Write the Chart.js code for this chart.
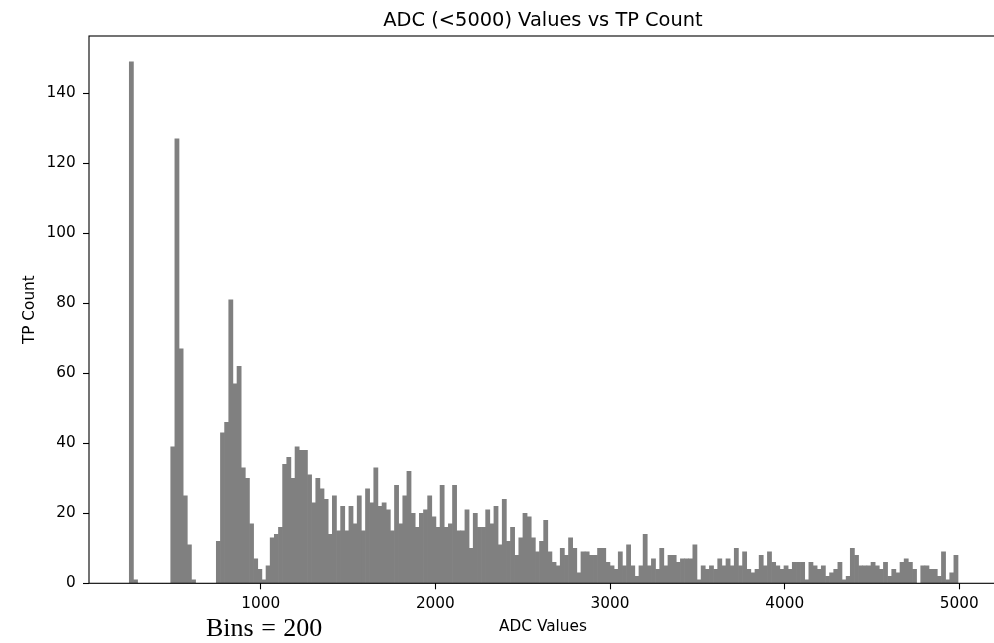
<!DOCTYPE html>
<html>
<head>
<meta charset="utf-8">
<script src="https://cdn.jsdelivr.net/npm/chart.js@4/dist/chart.umd.min.js"></script>
<style>
  html, body { margin: 0; padding: 0; background: #fff; overflow: hidden; width: 994px; height: 643px; }
  #wrap { position: relative; width: 997px; height: 643px; }
  #c { position: absolute; left: 0; top: 0; }
  #bins { position: absolute; left: 206px; top: 614.9px; font-family: 'Liberation Serif', 'Times New Roman', serif;
          font-size: 26px; line-height: 26px; color: #000; white-space: pre; word-spacing: 1px; }
</style>
</head>
<body>
<div id="wrap">
  <canvas id="c" width="997" height="643"></canvas>
  <div id="bins">Bins = 200</div>
</div>
<script>
// ---- text ----
const TITLE = 'ADC (<5000) Values vs TP Count';
const X_LABEL = 'ADC Values';
const Y_LABEL = 'TP Count';

// ---- histogram bins (200 bins) ----
const BIN_START = 247.6;   // left edge of first bin (ADC)
const BIN_WIDTH = 23.725;  // bin width (ADC)

// ---- counts per bin ----
const counts = [
  149, 1, 0, 0, 0, 0, 0, 0, 0, 0,
  39, 127, 67, 25, 11, 1, 0, 0, 0, 0,
  0, 12, 43, 46, 81, 57, 62, 33, 30, 17,
  7, 4, 1, 5, 13, 14, 16, 34, 36, 30,
  39, 38, 38, 31, 23, 30, 27, 24, 14, 25,
  15, 22, 15, 22, 17, 25, 15, 27, 23, 33,
  22, 23, 21, 15, 28, 17, 25, 32, 20, 16,
  20, 21, 25, 19, 16, 28, 16, 17, 28, 15,
  15, 21, 10, 20, 16, 16, 21, 17, 22, 11,
  24, 12, 16, 8, 13, 20, 19, 13, 9, 12,
  18, 9, 6, 5, 10, 8, 13, 10, 3, 9,
  9, 8, 8, 10, 10, 6, 5, 4, 9, 5,
  11, 5, 2, 5, 14, 5, 7, 4, 10, 5,
  8, 8, 6, 7, 7, 7, 11, 1, 5, 4,
  5, 4, 7, 5, 7, 5, 10, 5, 9, 4,
  3, 4, 8, 5, 9, 6, 5, 4, 5, 4,
  6, 6, 6, 1, 6, 5, 4, 5, 2, 3,
  4, 6, 1, 2, 10, 8, 5, 5, 5, 6,
  5, 4, 6, 2, 4, 3, 6, 7, 6, 4,
  0, 5, 5, 4, 4, 2, 9, 1, 3, 8
];

// ---- axes ----
const xTicks = [1000, 2000, 3000, 4000, 5000];
const yTicks = [0, 20, 40, 60, 80, 100, 120, 140];
const X_MIN = 16.9, X_MAX = 5215.8;
const Y_MIN = 0, Y_MAX = 156.4;

const FONT = "'DejaVu Sans', sans-serif";

const points = counts.map((c, i) => ({ x: BIN_START + (i + 0.5) * BIN_WIDTH, y: c }));

const titleCenter = {
  id: 'titleCenter',
  afterLayout(chart) {
    const t = chart.titleBlock;
    if (t) { t.left = chart.chartArea.left; t.right = chart.chartArea.right; }
  }
};

const frame = {
  id: 'frame',
  afterDraw(chart) {
    const { ctx, chartArea: a } = chart;
    ctx.save();
    ctx.strokeStyle = '#000';
    ctx.lineWidth = 1.1;
    ctx.strokeRect(a.left, a.top, a.right - a.left, a.bottom - a.top);
    ctx.restore();
  }
};

new Chart(document.getElementById('c'), {
  type: 'bar',
  data: {
    datasets: [{
      data: points,
      backgroundColor: '#808080',
      borderWidth: 0,
      barPercentage: 1,
      categoryPercentage: 1
    }]
  },
  options: {
    responsive: false,
    animation: false,
    devicePixelRatio: 1,
    layout: { padding: 0 },
    plugins: {
      legend: { display: false },
      tooltip: { enabled: false },
      title: {
        display: true, text: TITLE, color: '#000',
        font: { family: FONT, size: 19.4, weight: 'normal', lineHeight: 1.2 },
        padding: { top: 9.3, bottom: 3.42 }
      }
    },
    scales: {
      x: {
        type: 'linear', position: 'bottom', min: X_MIN, max: X_MAX, offset: false,
        afterBuildTicks: s => { s.ticks = xTicks.map(v => ({ value: v })); },
        afterFit: s => { s.height = 59.7; },
        grid: { display: true, offset: false, drawOnChartArea: false, drawTicks: true, tickLength: 6, tickWidth: 1.1, color: '#000' },
        border: { display: false },
        ticks: { color: '#000', font: { family: FONT, size: 15.3, lineHeight: 1.2 }, padding: 5.3, maxRotation: 0, autoSkip: false, callback: v => String(v) },
        title: { display: true, text: X_LABEL, color: '#000', font: { family: FONT, size: 15.3, lineHeight: 1.2 }, padding: { top: 0, bottom: 6.6 } }
      },
      y: {
        type: 'linear', position: 'left', min: Y_MIN, max: Y_MAX,
        afterBuildTicks: s => { s.ticks = yTicks.map(v => ({ value: v })); },
        afterFit: s => { s.width = 89; },
        grid: { display: true, drawOnChartArea: false, drawTicks: true, tickLength: 6, tickWidth: 1.1, color: '#000' },
        border: { display: false },
        ticks: { color: '#000', font: { family: FONT, size: 15.3, lineHeight: 1.2 }, padding: 7.3, autoSkip: false, callback: v => String(v) },
        title: { display: true, text: Y_LABEL, color: '#000', font: { family: FONT, size: 15.3, lineHeight: 1.2 }, padding: { top: 21.3, bottom: 0 } }
      }
    }
  },
  plugins: [titleCenter, frame]
});
</script>
</body>
</html>
